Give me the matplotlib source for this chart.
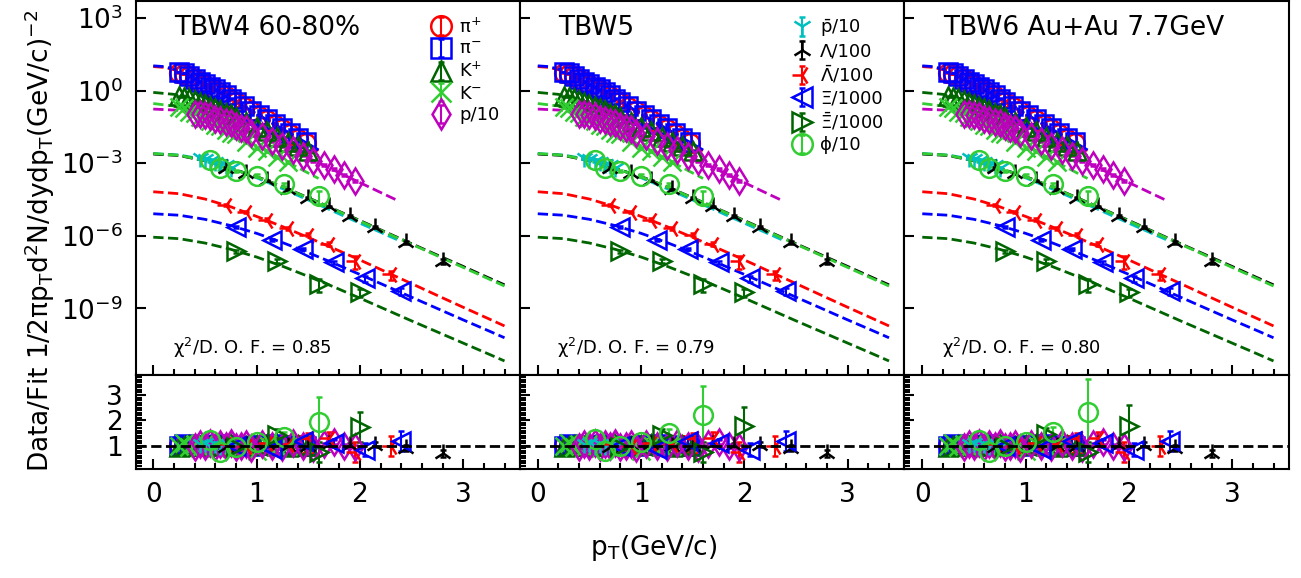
import matplotlib
matplotlib.use("Agg")
import matplotlib.pyplot as plt
from matplotlib.ticker import MultipleLocator, NullLocator, FixedLocator, LogFormatterMathtext

plt.rcParams['font.family'] = ['DejaVu Sans']
plt.rcParams['mathtext.fontset'] = 'dejavusans'

# ---------------- panel labels ----------------
panel_titles = ['TBW4 60-80%', 'TBW5', 'TBW6 Au+Au 7.7GeV']
chi2_values = ['0.85', '0.79', '0.80']

# ---------------- fit curves ----------------
fit_pt_pi = [0, 0.1, 0.2, 0.3, 0.4, 0.5, 0.6, 0.8, 1.0, 1.2, 1.4, 1.6]
pim_fit = [10.7, 10.0, 7.94, 5.25, 3.16, 1.86, 1.10, 0.355, 0.112, 0.0355, 0.0112, 0.00355]
pip_fit = [9.95, 9.3, 7.38, 4.88, 2.94, 1.73, 1.02, 0.330, 0.104, 0.0330, 0.0104, 0.00330]

fit_pt_k = [0, 0.2, 0.4, 0.6, 0.8, 1.0, 1.2, 1.4, 1.6]
kp_fit = [0.851, 0.708, 0.417, 0.191, 0.0794, 0.0316, 0.0126, 0.00501, 0.00200]
km_fit = [0.295, 0.234, 0.112, 0.0417, 0.0148, 0.00525, 0.00186, 0.000661, 0.000234]

fit_pt_p = [0, 0.25, 0.5, 0.75, 1.0, 1.25, 1.5, 1.75, 2.0, 2.25, 2.36]
p_fit = [0.174, 0.155, 0.0955, 0.0427, 0.0158, 0.00525, 0.00166, 0.000513, 0.000158, 4.90e-5, 2.95e-5]
pbar_fit = [2.51e-3, 2.19e-3, 1.41e-3, 6.61e-4, 2.51e-4, 8.91e-5, 3.02e-5, 1.00e-5, 3.31e-6, 1.12e-6, 6.92e-7]

fit_pt_hyp = [0, 0.25, 0.5, 0.75, 1.0, 1.25, 1.5, 1.75, 2.0, 2.25, 2.5, 2.75, 3.0, 3.25, 3.4]
lam_fit = [2.40e-3, 2.09e-3, 1.26e-3, 6.03e-4, 2.82e-4, 1.07e-4, 3.72e-5, 1.26e-5, 4.27e-6,
           1.41e-6, 4.68e-7, 1.58e-7, 5.37e-8, 1.78e-8, 9.33e-9]
lbar_fit = [6.61e-5, 5.50e-5, 3.31e-5, 1.58e-5, 6.31e-6, 2.40e-6, 8.51e-7, 2.95e-7, 1.0e-7,
            3.24e-8, 1.05e-8, 3.39e-9, 1.10e-9, 3.63e-10, 1.86e-10]
xi_fit = [8.13e-6, 7.08e-6, 4.79e-6, 2.63e-6, 1.26e-6, 5.25e-7, 2.00e-7, 7.24e-8, 2.51e-8,
          8.51e-9, 2.88e-9, 9.77e-10, 3.31e-10, 1.15e-10, 6.03e-11]
xibar_fit = [8.71e-7, 7.59e-7, 5.01e-7, 2.75e-7, 1.32e-7, 5.50e-8, 2.09e-8, 7.59e-9, 2.63e-9,
             8.91e-10, 3.02e-10, 1.05e-10, 3.63e-11, 1.26e-11, 6.61e-12]
phi_fit = [2.51e-3, 2.14e-3, 1.29e-3, 6.03e-4, 2.75e-4, 1.05e-4, 3.63e-5, 1.23e-5, 4.07e-6,
           1.35e-6, 4.47e-7, 1.48e-7, 4.90e-8, 1.62e-8, 8.32e-9]

# ---------------- measured spectra ----------------
pi_pt = [0.25, 0.30, 0.35, 0.40, 0.45, 0.50, 0.55, 0.60, 0.65, 0.70, 0.75, 0.80,
         0.875, 0.95, 1.025, 1.10, 1.175, 1.25, 1.325, 1.40, 1.475]
pim_y = [5.89, 5.51, 4.19, 3.16, 2.38, 1.86, 1.46, 1.14, 0.873, 0.650, 0.468, 0.344,
         0.224, 0.151, 0.0997, 0.0650, 0.0428, 0.0274, 0.0174, 0.0110, 0.00724]
pim_ratio = [1.0, 1.05, 1.03, 1.0, 0.98, 1.0, 1.02, 1.04, 1.05, 1.03, 1.0, 0.97,
             0.98, 1.0, 1.02, 1.03, 1.05, 1.02, 1.0, 0.98, 1.0]
pip_y = [5.59, 4.88, 3.94, 2.97, 2.24, 1.76, 1.33, 1.05, 0.805, 0.599, 0.431, 0.330,
         0.207, 0.142, 0.0936, 0.0599, 0.0394, 0.0250, 0.0160, 0.0105, 0.00660]
pip_ratio = [1.02, 1.0, 1.04, 1.01, 0.99, 1.02, 1.0, 1.03, 1.04, 1.02, 0.99, 1.0,
             0.97, 1.01, 1.03, 1.02, 1.04, 1.0, 0.99, 1.01, 0.98]
pi_rerr = [0.03, 0.03, 0.03, 0.03, 0.03, 0.03, 0.03, 0.03, 0.03, 0.03, 0.03, 0.03,
           0.04, 0.04, 0.04, 0.04, 0.05, 0.05, 0.05, 0.05, 0.05]

kp_pt = [0.25, 0.30, 0.35, 0.40, 0.45, 0.50, 0.55, 0.60, 0.65, 0.70, 0.75, 0.80,
         0.9, 1.0, 1.1, 1.2, 1.3, 1.4, 1.5]
kp_y = [0.599, 0.556, 0.494, 0.409, 0.347, 0.294, 0.234, 0.185, 0.153, 0.125, 0.104, 0.0794,
        0.0491, 0.0322, 0.0210, 0.0126, 0.00754, 0.00516, 0.00316]
kp_ratio = [0.95, 1.0, 1.02, 0.98, 1.0, 1.03, 1.0, 0.97, 1.0, 1.02, 1.05, 1.0,
            0.98, 1.02, 1.05, 1.0, 0.95, 1.03, 1.0]
kp_rerr = [0.04, 0.04, 0.04, 0.04, 0.04, 0.04, 0.04, 0.04, 0.04, 0.04, 0.05, 0.05,
           0.05, 0.05, 0.06, 0.06, 0.07, 0.07, 0.08]

km_pt = [0.25, 0.30, 0.35, 0.40, 0.45, 0.50, 0.55, 0.60, 0.65, 0.70, 0.75, 0.80,
         0.9, 1.0, 1.1, 1.2, 1.3]
km_y = [0.204, 0.187, 0.131, 0.118, 0.0793, 0.0752, 0.0537, 0.0384, 0.0350, 0.0248, 0.0181, 0.0163,
        0.00793, 0.00420, 0.00329, 0.00177, 0.00111]
km_ratio = [1.0, 1.1, 0.95, 1.05, 0.9, 1.1, 1.0, 0.92, 1.08, 1.0, 0.95, 1.1,
            0.9, 0.8, 1.05, 0.95, 1.0]
km_rerr = [0.05, 0.05, 0.05, 0.05, 0.05, 0.05, 0.05, 0.05, 0.06, 0.06, 0.06, 0.06,
           0.07, 0.07, 0.08, 0.08, 0.09]

p_pt = [0.40, 0.45, 0.50, 0.55, 0.60, 0.65, 0.70, 0.75, 0.80, 0.85, 0.90, 0.95,
        1.05, 1.15, 1.25, 1.35, 1.45, 1.55, 1.65, 1.75, 1.85, 1.95]
p_y = [0.111, 0.111, 0.0955, 0.0904, 0.0665, 0.0618, 0.0501, 0.0470, 0.0333, 0.0288, 0.0253, 0.0178,
       0.0134, 0.00813, 0.00499, 0.00364, 0.00209, 0.00119, 0.000863, 0.000590, 0.000320, 0.000190]
p_ratio = [0.95, 1.05, 1.0, 1.1, 0.95, 1.05, 1.0, 1.1, 0.95, 1.0, 1.08, 0.92,
           1.05, 1.0, 0.95, 1.1, 1.0, 0.9, 1.05, 1.15, 1.0, 0.95]
p_rerr = [0.04, 0.04, 0.04, 0.04, 0.04, 0.04, 0.04, 0.04, 0.05, 0.05, 0.05, 0.05,
          0.05, 0.05, 0.06, 0.06, 0.06, 0.07, 0.07, 0.08, 0.08, 0.09]

pbar_pt = [0.45, 0.50, 0.55, 0.60, 0.65, 0.70, 0.75]
pbar_y = [1.66e-3, 1.55e-3, 1.23e-3, 1.16e-3, 8.94e-4, 8.15e-4, 6.61e-4]
pbar_ratio = [1.05, 1.1, 1.0, 1.08, 0.98, 1.05, 1.0]
pbar_rerr = [0.08, 0.08, 0.08, 0.09, 0.09, 0.1, 0.1]

lam_pt = [0.7, 0.9, 1.1, 1.3, 1.5, 1.7, 1.9, 2.15, 2.45, 2.8]
lam_y = [6.64e-4, 3.88e-4, 2.00e-4, 8.45e-5, 3.72e-5, 1.63e-5, 6.74e-6, 2.26e-6, 5.30e-7, 9.02e-8]
lam_ratio = [0.95, 1.02, 1.05, 0.97, 1.0, 1.05, 1.02, 1.03, 0.9, 0.7]
lam_rerr = [0.05, 0.05, 0.05, 0.06, 0.06, 0.07, 0.08, 0.1, 0.12, 0.15]

lbar_pt = [0.7, 0.9, 1.1, 1.3, 1.5, 1.7, 1.95, 2.3]
lbar_y = [1.91e-5, 9.33e-6, 4.70e-6, 2.05e-6, 1.11e-6, 4.72e-7, 9.45e-8, 2.57e-8]
lbar_ratio = [1.05, 1.0, 1.1, 1.05, 1.3, 1.3, 0.75, 1.0]
lbar_rerr = [0.1, 0.1, 0.12, 0.15, 0.2, 0.25, 0.4, 0.4]

xi_pt = [0.8, 1.15, 1.45, 1.75, 2.05, 2.4]
xi_y = [2.29e-6, 6.60e-7, 2.94e-7, 7.96e-8, 1.73e-8, 5.36e-9]
xi_ratio = [1.0, 0.87, 1.2, 1.1, 0.85, 1.2]
xi_rerr = [0.1, 0.1, 0.12, 0.15, 0.25, 0.4]

xibar_pt = [0.8, 1.2, 1.6, 2.0]
xibar_y = [2.28e-7, 9.38e-8, 1.02e-8, 4.60e-9]
xibar_ratio = [[0.95, 1.42, 0.74, 1.75], [0.95, 1.42, 0.74, 1.79], [0.95, 1.45, 0.74, 1.79]]
xibar_rerr = [[0.15, 0.25, 0.4, 0.6], [0.15, 0.25, 0.4, 0.75], [0.15, 0.25, 0.4, 0.8]]

phi_pt = [0.55, 0.65, 0.8, 1.0, 1.27, 1.6]
phi_y = [1.37e-3, 6.16e-4, 4.92e-4, 3.11e-4, 1.33e-4, 4.50e-5]
phi_ratio = [[1.22, 0.74, 0.96, 1.13, 1.36, 1.92],
             [1.25, 0.78, 0.98, 1.15, 1.49, 2.21],
             [1.22, 0.76, 0.98, 1.16, 1.55, 2.34]]
phi_rerr = [[0.1, 0.1, 0.1, 0.12, 0.18, 1.0],
            [0.1, 0.1, 0.1, 0.12, 0.18, 1.15],
            [0.1, 0.1, 0.1, 0.12, 0.18, 1.28]]

species = [
    dict(label='π$^{+}$', color='red', marker='o', pt=pi_pt, y=pip_y, ratio=pip_ratio, rerr=pi_rerr,
         fpt=fit_pt_pi, fy=pip_fit),
    dict(label='π$^{-}$', color='blue', marker='s', pt=pi_pt, y=pim_y, ratio=pim_ratio, rerr=pi_rerr,
         fpt=fit_pt_pi, fy=pim_fit),
    dict(label='K$^{+}$', color='darkgreen', marker='^', pt=kp_pt, y=kp_y, ratio=kp_ratio, rerr=kp_rerr,
         fpt=fit_pt_k, fy=kp_fit),
    dict(label='K$^{-}$', color='limegreen', marker='x', pt=km_pt, y=km_y, ratio=km_ratio, rerr=km_rerr,
         fpt=fit_pt_k, fy=km_fit),
    dict(label='p/10', color='m', marker='d', pt=p_pt, y=p_y, ratio=p_ratio, rerr=p_rerr,
         fpt=fit_pt_p, fy=p_fit),
    dict(label=r'$\bar{\mathrm{p}}$/10', color='c', marker='1', pt=pbar_pt, y=pbar_y, ratio=pbar_ratio,
         rerr=pbar_rerr, fpt=fit_pt_p, fy=pbar_fit),
    dict(label='Λ/100', color='k', marker='2', pt=lam_pt, y=lam_y, ratio=lam_ratio, rerr=lam_rerr,
         fpt=fit_pt_hyp, fy=lam_fit),
    dict(label=r'$\bar{\Lambda}$/100', color='red', marker='3', pt=lbar_pt, y=lbar_y, ratio=lbar_ratio,
         rerr=lbar_rerr, fpt=fit_pt_hyp, fy=lbar_fit),
    dict(label='Ξ/1000', color='blue', marker='<', pt=xi_pt, y=xi_y, ratio=xi_ratio, rerr=xi_rerr,
         fpt=fit_pt_hyp, fy=xi_fit),
    dict(label=r'$\bar{\Xi}$/1000', color='darkgreen', marker='>', pt=xibar_pt, y=xibar_y,
         ratio=xibar_ratio, rerr=xibar_rerr, fpt=fit_pt_hyp, fy=xibar_fit),
    dict(label='ϕ/10', color='limegreen', marker='o', pt=phi_pt, y=phi_y, ratio=phi_ratio,
         rerr=phi_rerr, fpt=fit_pt_hyp, fy=phi_fit),
]


def per_panel(values, i):
    return values[i] if isinstance(values[0], list) else values


W, H = 1301, 578
fig = plt.figure(figsize=(W / 100, H / 100), dpi=100)


def box(left, top, right, bottom):
    return [left / W, 1 - bottom / H, (right - left) / W, (bottom - top) / H]


lefts = [135.5, 520.0, 904.5]
pw = 384.5
top_y, mid_y, bot_y = 0.8, 375.0, 469.3

TICK = 19
MS = 13.5

for i, x0 in enumerate(lefts):
    ax = fig.add_axes(box(x0, top_y, x0 + pw, mid_y))
    axr = fig.add_axes(box(x0, mid_y, x0 + pw, bot_y), sharex=ax)

    handles = []
    for sp in species:
        ax.plot(sp['fpt'], sp['fy'], '--', color=sp['color'], lw=2, zorder=1)
    for sp in species:
        ratio = per_panel(sp['ratio'], i)
        rerr = per_panel(sp['rerr'], i)
        ratio0 = per_panel(sp['ratio'], 0)
        rerr0 = per_panel(sp['rerr'], 0)
        yerr = [y * e / r for y, e, r in zip(sp['y'], rerr0, ratio0)]
        style = dict(fmt=sp['marker'], color=sp['color'], mfc='none', ms=MS, mew=1.8,
                     elinewidth=1.5, capsize=2.5, capthick=1.5, zorder=3)
        h = ax.errorbar(sp['pt'], sp['y'], yerr=yerr, label=sp['label'], **style)
        axr.errorbar(sp['pt'], ratio, yerr=rerr, **style)
        handles.append(h)

    axr.axhline(1.0, ls='--', color='k', lw=2, zorder=5)

    ax.set_yscale('log')
    ax.set_ylim(10 ** -11.76, 10 ** 3.72)
    ax.set_xlim(-0.172, 3.55)
    ax.yaxis.set_major_locator(FixedLocator([1e-9, 1e-6, 1e-3, 1.0, 1e3]))
    ax.yaxis.set_minor_locator(NullLocator())
    axr.set_ylim(0.07, 3.79)
    axr.yaxis.set_major_locator(FixedLocator([1, 2, 3]))
    axr.yaxis.set_minor_locator(MultipleLocator(0.1))
    for a in (ax, axr):
        a.xaxis.set_major_locator(MultipleLocator(1))
        a.xaxis.set_minor_locator(MultipleLocator(0.2))
        a.tick_params(which='both', direction='in', top=False, right=False, width=1.5,
                      labelsize=TICK, pad=9)
        a.tick_params(which='major', length=7)
        a.tick_params(which='minor', length=4)
        for s in a.spines.values():
            s.set_linewidth(1.5)
    ax.tick_params(labelbottom=False)
    if i == 0:
        ax.yaxis.set_major_formatter(LogFormatterMathtext())
    else:
        ax.tick_params(labelleft=False)
        axr.tick_params(labelleft=False)

    ax.text(0.1, 0.927, panel_titles[i], transform=ax.transAxes, fontsize=19, ha='left', va='center')
    ax.text(0.0975, 0.072, 'χ$^2$/D. O. F. = ' + chi2_values[i], transform=ax.transAxes,
            fontsize=13, ha='left', va='center')

    legend_style = dict(loc='upper right', bbox_to_anchor=(0.98, 0.99), frameon=False, fontsize=13,
                        handlelength=1.0, handletextpad=0.5, labelspacing=0.2, borderaxespad=0.3,
                        markerscale=1.1)
    if i == 0:
        ax.legend(handles=handles[:5], **legend_style)
    elif i == 1:
        ax.legend(handles=handles[5:], **legend_style)

fig.text(40 / W, 1 - 241 / H, r'Data/Fit 1/2πp$_{\rm T}$d$^2$N/dydp$_{\rm T}$(GeV/c)$^{-2}$',
         rotation=90, ha='center', va='center', fontsize=19)
fig.text(654 / W, 1 - 548 / H, r'p$_{\rm T}$(GeV/c)', ha='center', va='center', fontsize=19)

fig.savefig('out.png', dpi=100)
